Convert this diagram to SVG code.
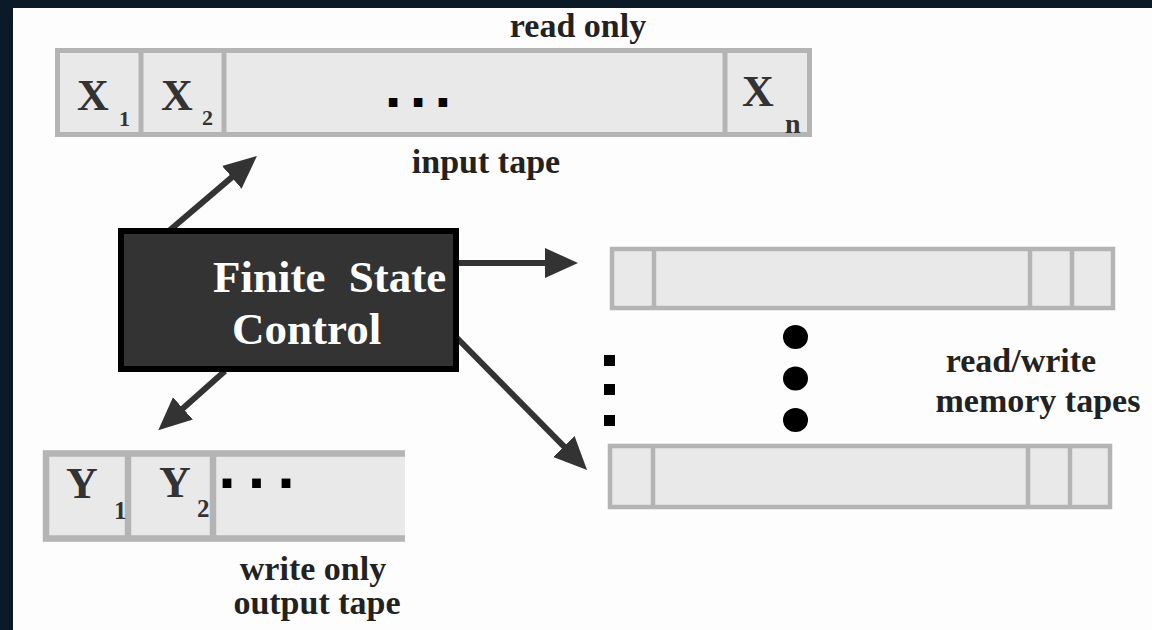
<svg xmlns="http://www.w3.org/2000/svg" width="1152" height="630" viewBox="0 0 1152 630">
  <style>
    .tape { fill: #e9e9e9; stroke: #b4b4b4; }
    .cellsep { stroke: #b4b4b4; }
    .lbl { font-family: "Liberation Serif", "Times New Roman", serif; font-weight: bold; font-size: 34px; fill: #222; text-anchor: middle; }
    .sym { font-family: "Liberation Serif", "Times New Roman", serif; font-weight: bold; fill: #333; }
    .dots { font-family: "DejaVu Sans", sans-serif; font-weight: bold; fill: #000; }
    .fsc { font-family: "Liberation Serif", "Times New Roman", serif; font-weight: bold; font-size: 45px; fill: #fff; }
    .conn { stroke: #333; stroke-width: 6; fill: none; marker-end: url(#head); }
  </style>
  <defs>
    <marker id="head" markerUnits="userSpaceOnUse" markerWidth="34" markerHeight="32" viewBox="0 0 34 32" refX="13" refY="16" orient="auto">
      <path d="M0,1 L33,16 L0,31 z" fill="#333"/>
    </marker>
  </defs>

  <!-- page frame -->
  <rect x="0" y="0" width="1152" height="630" fill="#0b1a26"/>
  <rect x="13" y="8" width="1139" height="622" fill="#fdfdfd"/>

  <!-- connectors -->
  <g id="connectors">
    <line class="conn" x1="170" y1="230" x2="241.7" y2="168.9"/>
    <line class="conn" x1="456" y1="263" x2="558" y2="263"/>
    <line class="conn" x1="456" y1="337" x2="573" y2="455.7"/>
    <line class="conn" x1="225" y1="371" x2="173.2" y2="417"/>
  </g>

  <!-- input tape -->
  <g id="input-tape">
    <rect class="tape" x="57.5" y="50.5" width="752" height="84" stroke-width="5"/>
    <line class="cellsep" x1="141" y1="50.5" x2="141" y2="134.5" stroke-width="5"/>
    <line class="cellsep" x1="224" y1="50.5" x2="224" y2="134.5" stroke-width="5"/>
    <line class="cellsep" x1="725" y1="50.5" x2="725" y2="134.5" stroke-width="5"/>
    <text class="sym" x="77" y="110" font-size="44">X</text>
    <text class="sym" x="119" y="126" font-size="22">1</text>
    <text class="sym" x="161" y="110" font-size="44">X</text>
    <text class="sym" x="202" y="125" font-size="22">2</text>
    <text class="dots" x="384" y="107" font-size="48" letter-spacing="6.7">...</text>
    <text class="sym" x="742" y="106" font-size="44">X</text>
    <text class="sym" x="785" y="133" font-size="28">n</text>
    <text class="lbl" x="578" y="37">read only</text>
    <text class="lbl" x="486" y="173">input tape</text>
  </g>

  <!-- finite state control -->
  <g id="finite-state-control">
    <rect x="121" y="231" width="335" height="138" fill="#333" stroke="#000" stroke-width="6"/>
    <text class="fsc" x="213" y="292" word-spacing="12">Finite State</text>
    <text class="fsc" x="232" y="344">Control</text>
  </g>

  <!-- read/write memory tapes -->
  <g id="memory-tape-1">
    <rect class="tape" x="612" y="249" width="501" height="59" stroke-width="4.5"/>
    <line class="cellsep" x1="654" y1="249" x2="654" y2="310" stroke-width="4.5"/>
    <line class="cellsep" x1="1030" y1="249" x2="1030" y2="310" stroke-width="4.5"/>
    <line class="cellsep" x1="1072" y1="249" x2="1072" y2="310" stroke-width="4.5"/>
  </g>
  <g id="memory-tape-2">
    <rect class="tape" x="610" y="446" width="500" height="61" stroke-width="4.5"/>
    <line class="cellsep" x1="653" y1="446" x2="653" y2="507" stroke-width="4.5"/>
    <line class="cellsep" x1="1028" y1="446" x2="1028" y2="507" stroke-width="4.5"/>
    <line class="cellsep" x1="1070" y1="446" x2="1070" y2="507" stroke-width="4.5"/>
  </g>
  <g id="memory-ellipsis" fill="#000">
    <rect x="604" y="355" width="11" height="11"/>
    <rect x="604" y="384" width="11" height="11"/>
    <rect x="604" y="415" width="11" height="11"/>
    <ellipse cx="795.5" cy="337" rx="12.5" ry="12"/>
    <ellipse cx="795.5" cy="378.5" rx="12.5" ry="12"/>
    <ellipse cx="795.5" cy="420" rx="12.5" ry="12"/>
  </g>
  <g id="memory-label">
    <text class="lbl" x="1021" y="372">read/write</text>
    <text class="lbl" x="1038" y="412">memory tapes</text>
  </g>

  <!-- output tape -->
  <g id="output-tape">
    <rect x="43" y="450" width="362" height="92" fill="#e9e9e9"/>
    <path d="M405,453.5 H46 V538.5 H405" fill="none" stroke="#b4b4b4" stroke-width="6.5"/>
    <line class="cellsep" x1="128" y1="453" x2="128" y2="539" stroke-width="6.5"/>
    <line class="cellsep" x1="213" y1="453" x2="213" y2="539" stroke-width="6.5"/>
    <text class="sym" x="66" y="498" font-size="44">Y</text>
    <text class="sym" x="114" y="519" font-size="25">1</text>
    <text class="sym" x="159" y="497" font-size="44">Y</text>
    <text class="sym" x="197" y="517" font-size="25">2</text>
    <text class="dots" x="217.6" y="488" font-size="50" letter-spacing="10.5">...</text>
    <text class="lbl" x="313" y="580">write only</text>
    <text class="lbl" x="317" y="614">output tape</text>
  </g>
</svg>
